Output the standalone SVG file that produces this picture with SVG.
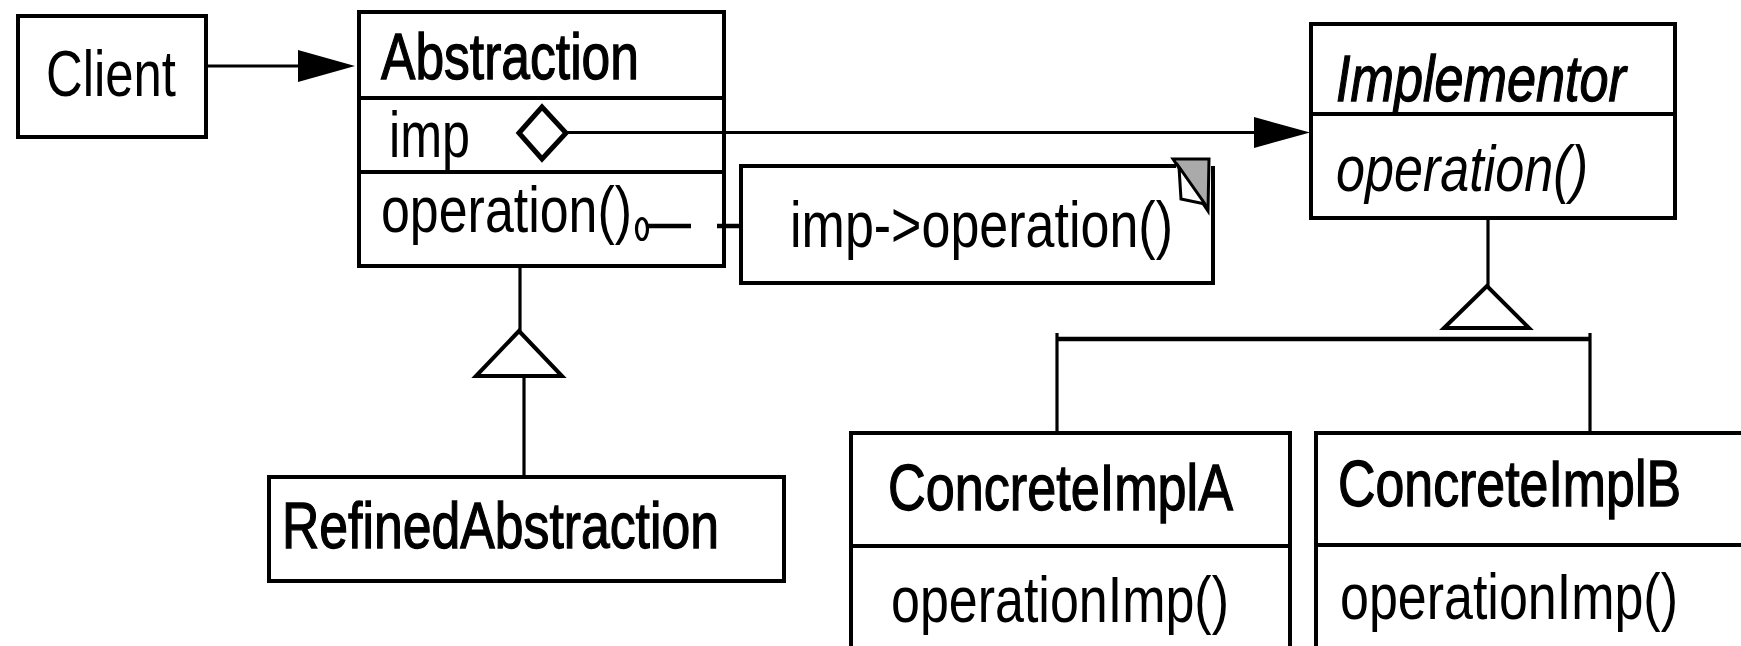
<svg xmlns="http://www.w3.org/2000/svg" width="1741" height="646" viewBox="0 0 1741 646">
<style>
.box{fill:#fff;stroke:#000;stroke-width:4}
.div{stroke:#000;stroke-width:4}
.ln{stroke:#000;stroke-width:3.2;fill:none}
.t{font-family:"Liberation Sans",Arial,sans-serif;font-size:65px;fill:#000}
.b{stroke:#000;stroke-width:1.3}
.i{font-style:italic}
.tri{fill:#fff;stroke:#000;stroke-width:4;stroke-linejoin:miter}
.ah{fill:#000;stroke:none}
</style>
<rect width="1741" height="646" fill="#fff"/>
<g id="client">
  <rect class="box" x="18" y="16" width="188" height="121"/>
  <text class="t" x="46" y="96" textLength="130" lengthAdjust="spacingAndGlyphs">Client</text>
</g>
<g id="abstraction">
  <rect class="box" x="359" y="12" width="365" height="254"/>
  <line class="div" x1="359" y1="98" x2="724" y2="98"/>
  <line class="div" x1="359" y1="172" x2="724" y2="172"/>
  <text class="t b" x="381" y="79" textLength="258" lengthAdjust="spacingAndGlyphs">Abstraction</text>
  <text class="t" x="389" y="157" textLength="81" lengthAdjust="spacingAndGlyphs">imp</text>
  <text class="t" x="381" y="232" textLength="251" lengthAdjust="spacingAndGlyphs">operation()</text>
</g>
<g id="note">
  <polyline points="1176,166 741,166 741,283 1213,283 1213,166" fill="#fff" stroke="#000" stroke-width="4"/>
  <polygon points="1173,159 1209,159 1208,211" fill="#aaa" stroke="#000" stroke-width="3"/>
  <polygon points="1179,167 1181,199 1205,204" fill="#fff" stroke="#000" stroke-width="3"/>
  <text class="t" x="790" y="247" textLength="383" lengthAdjust="spacingAndGlyphs">imp-&gt;operation()</text>
</g>
<g id="implementor">
  <rect class="box" x="1311" y="24" width="364" height="194"/>
  <line class="div" x1="1311" y1="114" x2="1675" y2="114"/>
  <text class="t b i" x="1336" y="101" textLength="290" lengthAdjust="spacingAndGlyphs">Implementor</text>
  <text class="t i" x="1336" y="191" textLength="252" lengthAdjust="spacingAndGlyphs">operation()</text>
</g>
<g id="refinedAbstraction">
  <rect class="box" x="269" y="477" width="515" height="104"/>
  <text class="t b" x="282" y="548" textLength="437" lengthAdjust="spacingAndGlyphs">RefinedAbstraction</text>
</g>
<g id="concreteImplA">
  <rect class="box" x="851" y="433" width="439" height="240"/>
  <line class="div" x1="851" y1="546" x2="1290" y2="546"/>
  <text class="t b" x="888" y="510" textLength="345" lengthAdjust="spacingAndGlyphs">ConcreteImplA</text>
  <text class="t" x="891" y="622" textLength="338" lengthAdjust="spacingAndGlyphs">operationImp()</text>
</g>
<g id="concreteImplB">
  <rect class="box" x="1316" y="433" width="440" height="240"/>
  <line class="div" x1="1316" y1="545" x2="1756" y2="545"/>
  <text class="t b" x="1338" y="506" textLength="343" lengthAdjust="spacingAndGlyphs">ConcreteImplB</text>
  <text class="t" x="1340" y="619" textLength="338" lengthAdjust="spacingAndGlyphs">operationImp()</text>
</g>
<g id="connectors">
  <line class="ln" x1="206" y1="66" x2="300" y2="66"/>
  <polygon class="ah" points="298,50 355,66 298,82"/>
  <line class="ln" x1="566" y1="132.5" x2="1256" y2="132.5"/>
  <polygon class="ah" points="1254,117 1310,132.5 1254,148"/>
  <polygon points="519,133 542,107 566,133 542,159" fill="#fff" stroke="#000" stroke-width="5"/>
  <ellipse cx="642" cy="229" rx="5.5" ry="10.5" fill="none" stroke="#000" stroke-width="3.2"/>
  <line x1="648" y1="226" x2="691" y2="226" stroke="#000" stroke-width="4.5"/>
  <line x1="717" y1="226" x2="742" y2="226" stroke="#000" stroke-width="4.5"/>
  <line class="ln" x1="520" y1="266" x2="520" y2="333"/>
  <polygon class="tri" points="519,331 476,376 562,376"/>
  <line class="ln" x1="524" y1="378" x2="524" y2="477"/>
  <line class="ln" x1="1488" y1="218" x2="1488" y2="288"/>
  <polygon class="tri" points="1487,286 1444,328 1529,328"/>
  <line x1="1057" y1="339" x2="1590" y2="339" stroke="#000" stroke-width="4.5"/>
  <line class="ln" x1="1057" y1="333" x2="1057" y2="433"/>
  <line class="ln" x1="1590" y1="333" x2="1590" y2="433"/>
</g>
</svg>
